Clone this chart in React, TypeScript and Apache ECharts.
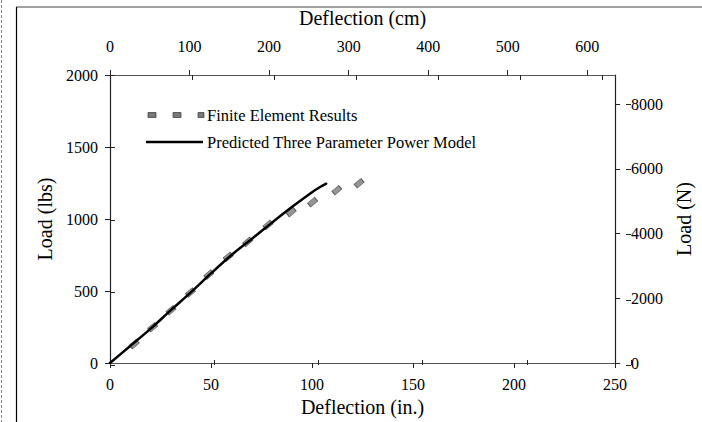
import React, { useEffect, useRef } from "react";
import * as echarts from "echarts";

// Finite element results (deflection in inches, load in lbs)
const feDeflection = [12.0, 21.1, 30.2, 39.8, 48.9, 58.5, 68.1, 78.2, 89.7, 100.3, 112.3, 123.3];
const feLoad = [131, 248, 366, 490, 614, 738, 841, 959, 1048, 1117, 1200, 1248];

// Predicted three parameter power model
const modelDeflection = [0, 10, 20, 30, 40, 50, 60, 70, 80, 90, 100, 104, 107];
const modelLoad = [0, 118, 237, 365, 490, 622, 748, 860, 973, 1083, 1186, 1222, 1245];

const seriesNames = ["Finite Element Results", "Predicted Three Parameter Power Model"];
const axisTitles = ["Deflection (in.)", "Deflection (cm)", "Load (lbs)", "Load (N)"];

// tick labels of the secondary axes
const cmTicks = [0, 100, 200, 300, 400, 500, 600];
const newtonTicks = [0, 2000, 4000, 6000, 8000];

const IN_MAX = 250;
const LBS_MAX = 2000;
const CM_PER_IN = 2.54;
const N_PER_LB = 4.448;

const FONT = "Liberation Serif, Times New Roman, serif";

export default function App() {
  const ref = useRef<HTMLDivElement>(null);
  useEffect(() => {
    if (!ref.current) return;
    const chart = echarts.init(ref.current, null, { renderer: "svg" });
    const plain = (v: number) => String(Math.round(v));
    const labelStyle = { fontFamily: FONT, fontSize: 16, color: "#000", formatter: plain };
    const nameStyle = { fontFamily: FONT, fontSize: 20, color: "#000" };
    const tickOut = { show: true, inside: false, length: 5, lineStyle: { color: "#222", width: 1 } };
    const tickIn = { show: true, inside: true, length: 5, lineStyle: { color: "#222", width: 1 } };
    const gridBox = { left: 110, right: 71, top: 75, bottom: 57, containLabel: false };
    const xDefs = [
      { position: "bottom", max: IN_MAX, interval: 50, custom: undefined as any },
      { position: "top", max: IN_MAX * CM_PER_IN, interval: 100, custom: cmTicks },
    ];
    const yDefs = [
      { position: "left", max: LBS_MAX, interval: 500, custom: undefined as any },
      { position: "right", max: LBS_MAX * N_PER_LB, interval: 2000, custom: newtonTicks },
    ];
    const option: any = {
      animation: false,
      backgroundColor: "#fff",
      grid: [gridBox, { ...gridBox }],
      xAxis: [
        {
          type: "value",
          gridIndex: 0,
          position: "bottom",
          min: 0,
          max: IN_MAX,
          interval: 50,
          name: axisTitles[0],
          nameLocation: "middle",
          nameGap: 34,
          nameTextStyle: nameStyle,
          axisLine: { show: true, onZero: false, lineStyle: { color: "#555", width: 1 } },
          axisTick: tickOut,
          axisLabel: { ...labelStyle, margin: 13 },
          splitLine: { show: false },
        },
        {
          type: "value",
          gridIndex: 0,
          position: "top",
          min: 0,
          max: IN_MAX * CM_PER_IN,
          interval: 100,
          name: axisTitles[1],
          nameLocation: "middle",
          nameGap: 47,
          nameTextStyle: nameStyle,
          axisLine: { show: true, onZero: false, lineStyle: { color: "#555", width: 1 } },
          axisTick: { ...tickOut, customValues: cmTicks },
          axisLabel: { ...labelStyle, margin: 21, customValues: cmTicks },
          splitLine: { show: false },
        },
        ...xDefs.map((d) => ({
          type: "value",
          gridIndex: 1,
          position: d.position,
          min: 0,
          max: d.max,
          interval: d.interval,
          axisLine: { show: false, onZero: false },
          axisTick: d.custom ? { ...tickIn, customValues: d.custom } : tickIn,
          axisLabel: { show: false },
          splitLine: { show: false },
        })),
      ],
      yAxis: [
        {
          type: "value",
          gridIndex: 0,
          position: "left",
          min: 0,
          max: LBS_MAX,
          interval: 500,
          name: axisTitles[2],
          nameLocation: "middle",
          nameGap: 54,
          nameRotate: 90,
          nameTextStyle: nameStyle,
          axisLine: { show: true, onZero: false, lineStyle: { color: "#222", width: 1.2 } },
          axisTick: tickOut,
          axisLabel: { ...labelStyle, margin: 12 },
          splitLine: { show: false },
        },
        {
          type: "value",
          gridIndex: 0,
          position: "right",
          min: 0,
          max: LBS_MAX * N_PER_LB,
          interval: 2000,
          name: axisTitles[3],
          nameLocation: "middle",
          nameGap: 50,
          nameRotate: 90,
          nameTextStyle: nameStyle,
          axisLine: { show: true, onZero: false, lineStyle: { color: "#222", width: 1.2 } },
          axisTick: { ...tickOut, customValues: newtonTicks },
          axisLabel: { ...labelStyle, margin: 16, customValues: newtonTicks },
          splitLine: { show: false },
        },
        ...yDefs.map((d) => ({
          type: "value",
          gridIndex: 1,
          position: d.position,
          min: 0,
          max: d.max,
          interval: d.interval,
          axisLine: { show: false, onZero: false },
          axisTick: d.custom ? { ...tickIn, customValues: d.custom } : tickIn,
          axisLabel: { show: false },
          splitLine: { show: false },
        })),
      ],
      series: [
        {
          name: seriesNames[1],
          type: "line",
          xAxisIndex: 0,
          yAxisIndex: 0,
          data: modelDeflection.map((d, i) => [d, modelLoad[i]]),
          showSymbol: false,
          symbol: "none",
          smooth: 0.3,
          lineStyle: { color: "#000", width: 2.5, cap: "round" },
          z: 3,
        },
        {
          name: seriesNames[0],
          type: "scatter",
          xAxisIndex: 0,
          yAxisIndex: 0,
          data: feDeflection.map((d, i) => [d, feLoad[i]]),
          symbol: "rect",
          symbolSize: [9, 5],
          symbolRotate: 40,
          itemStyle: { color: "#7a7a7a", borderColor: "#333", borderWidth: 0.7 },
          z: 2,
        },
      ],
      graphic: [
        // outer frame lines
        { type: "line", shape: { x1: 16, y1: 7, x2: 702, y2: 7 }, style: { stroke: "#444", lineWidth: 1 } },
        { type: "line", shape: { x1: 16.5, y1: 7, x2: 16.5, y2: 422 }, style: { stroke: "#000", lineWidth: 1.2 } },
        { type: "line", shape: { x1: 1.5, y1: 0, x2: 1.5, y2: 422 }, style: { stroke: "#888", lineWidth: 1, lineDash: [3, 2] } },
        // legend: finite element markers
        { type: "rect", shape: { x: 148, y: 112.5, width: 8, height: 5 }, style: { fill: "#7a7a7a", stroke: "#333", lineWidth: 0.7 } },
        { type: "rect", shape: { x: 173, y: 112.5, width: 8, height: 5 }, style: { fill: "#7a7a7a", stroke: "#333", lineWidth: 0.7 } },
        { type: "rect", shape: { x: 198, y: 112.5, width: 6, height: 5 }, style: { fill: "#7a7a7a", stroke: "#333", lineWidth: 0.7 } },
        {
          type: "text",
          x: 207,
          y: 115,
          style: { text: seriesNames[0], font: `16.5px ${FONT}`, fill: "#000", verticalAlign: "middle" },
        },
        // legend: model line
        { type: "line", shape: { x1: 146, y1: 142, x2: 203, y2: 142 }, style: { stroke: "#000", lineWidth: 2.5 } },
        {
          type: "text",
          x: 207,
          y: 142,
          style: { text: seriesNames[1], font: `16.5px ${FONT}`, fill: "#000", verticalAlign: "middle" },
        },
      ],
    };
    chart.setOption(option);
    return () => chart.dispose();
  }, []);
  return (
    <div
      ref={ref}
      style={{ position: "fixed", left: 0, top: 0, width: 702, height: 422, background: "#fff" }}
    />
  );
}
